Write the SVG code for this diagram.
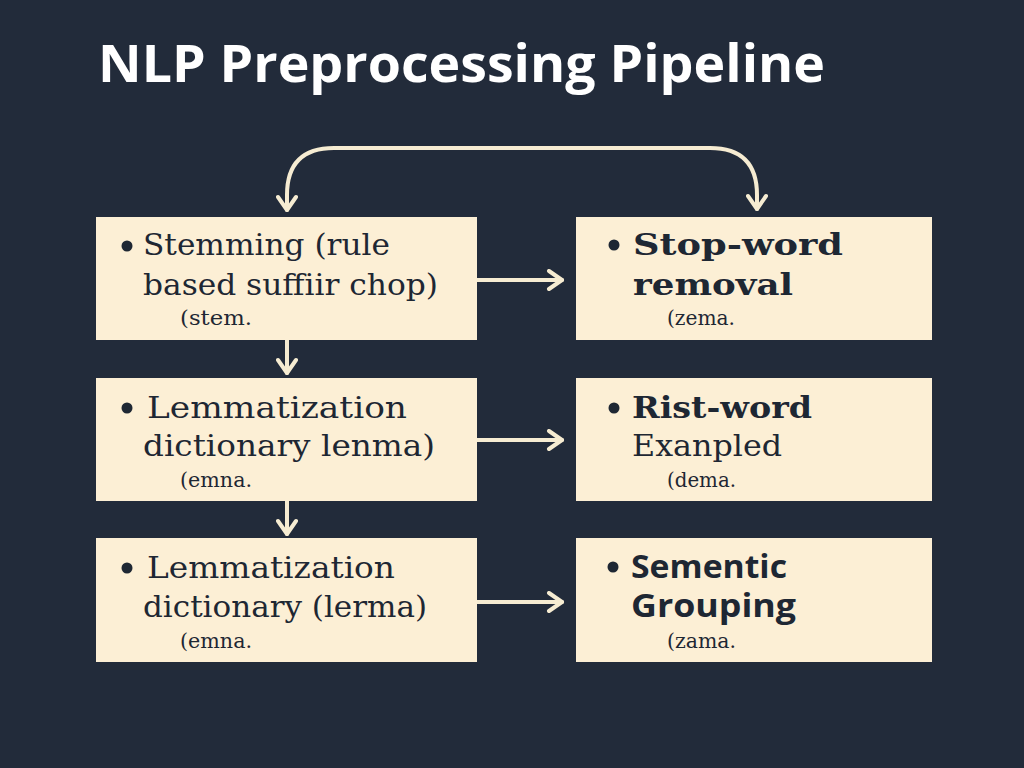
<svg xmlns="http://www.w3.org/2000/svg" width="1024" height="768" viewBox="0 0 1024 768">
<style>
.box{fill:#fcefd5}
.t{font-family:"DejaVu Serif","Liberation Serif",serif;font-size:29px;fill:#1e2733}
.tb{font-family:"DejaVu Serif","Liberation Serif",serif;font-size:29px;font-weight:bold;fill:#1e2733}
.ts{font-family:"Open Sans","Noto Sans",sans-serif;font-size:32px;font-weight:bold;fill:#1e2733}
.sm{font-family:"DejaVu Serif","Liberation Serif",serif;font-size:20px;fill:#1e2733}
.dot{fill:#1e2733}
.c{fill:none;stroke:#f6ecd2;stroke-width:4;stroke-linecap:round;stroke-linejoin:round}
</style>
<defs>
<marker id="ah" viewBox="0 0 22 22" refX="19" refY="11" markerWidth="22" markerHeight="22" markerUnits="userSpaceOnUse" orient="auto">
<path d="M6 2 L19 11 L6 20" fill="none" stroke="#f6ecd2" stroke-width="4" stroke-linecap="round" stroke-linejoin="round"/>
</marker>
</defs>
<rect width="1024" height="768" fill="#222b3a"/>
<text x="98" y="82" font-family="'Open Sans','Noto Sans',sans-serif" font-size="52" font-weight="bold" fill="#ffffff" textLength="727" lengthAdjust="spacingAndGlyphs">NLP Preprocessing Pipeline</text>
<g id="connectors">
<path class="c" d="M287 209 L287 195 Q287 148 334 148 L710 148 Q757 148 757 195 L757 209" marker-end="url(#ah)"/>
<path class="c" d="M287 195 L287 210" marker-end="url(#ah)"/>
<path class="c" d="M477 280 L562 280" marker-end="url(#ah)"/>
<path class="c" d="M477 440 L562 440" marker-end="url(#ah)"/>
<path class="c" d="M477 602 L562 602" marker-end="url(#ah)"/>
<path class="c" d="M287 340 L287 373" marker-end="url(#ah)"/>
<path class="c" d="M287 501 L287 534" marker-end="url(#ah)"/>
</g>
<g id="stemming">
<rect class="box" x="96" y="217" width="381" height="123"/>
<circle class="dot" cx="127" cy="246" r="5.5"/>
<text class="t" x="143" y="255" textLength="247" lengthAdjust="spacingAndGlyphs">Stemming (rule</text>
<text class="t" x="143" y="295" textLength="295" lengthAdjust="spacingAndGlyphs">based suffiir chop)</text>
<text class="sm" x="180" y="325" textLength="72" lengthAdjust="spacingAndGlyphs">(stem.</text>
</g>
<g id="lemma1">
<rect class="box" x="96" y="378" width="381" height="123"/>
<circle class="dot" cx="127" cy="408" r="5.5"/>
<text class="t" x="147" y="418" textLength="260" lengthAdjust="spacingAndGlyphs">Lemmatization</text>
<text class="t" x="143" y="456" textLength="292" lengthAdjust="spacingAndGlyphs">dictionary lenma)</text>
<text class="sm" x="180" y="487" textLength="72" lengthAdjust="spacingAndGlyphs">(emna.</text>
</g>
<g id="lemma2">
<rect class="box" x="96" y="538" width="381" height="124"/>
<circle class="dot" cx="127" cy="568" r="5.5"/>
<text class="t" x="147" y="578" textLength="248" lengthAdjust="spacingAndGlyphs">Lemmatization</text>
<text class="t" x="143" y="617" textLength="284" lengthAdjust="spacingAndGlyphs">dictionary (lerma)</text>
<text class="sm" x="180" y="648" textLength="72" lengthAdjust="spacingAndGlyphs">(emna.</text>
</g>
<g id="stopword">
<rect class="box" x="576" y="217" width="356" height="123"/>
<circle class="dot" cx="614" cy="245" r="5.5"/>
<text class="tb" x="633" y="255" textLength="210" lengthAdjust="spacingAndGlyphs">Stop-word</text>
<text class="tb" x="633" y="295" textLength="160" lengthAdjust="spacingAndGlyphs">removal</text>
<text class="sm" x="667" y="325" textLength="68" lengthAdjust="spacingAndGlyphs">(zema.</text>
</g>
<g id="ristword">
<rect class="box" x="576" y="378" width="356" height="123"/>
<circle class="dot" cx="614" cy="408" r="5.5"/>
<text class="tb" x="632" y="418" textLength="180" lengthAdjust="spacingAndGlyphs">Rist-word</text>
<text class="t" x="632" y="456" textLength="150" lengthAdjust="spacingAndGlyphs">Exanpled</text>
<text class="sm" x="667" y="487" textLength="69" lengthAdjust="spacingAndGlyphs">(dema.</text>
</g>
<g id="semantic">
<rect class="box" x="576" y="538" width="356" height="124"/>
<circle class="dot" cx="613" cy="567" r="5.5"/>
<text class="ts" x="631" y="578" textLength="156" lengthAdjust="spacingAndGlyphs">Sementic</text>
<text class="ts" x="631" y="617" textLength="165" lengthAdjust="spacingAndGlyphs">Grouping</text>
<text class="sm" x="667" y="648" textLength="69" lengthAdjust="spacingAndGlyphs">(zama.</text>
</g>
</svg>
